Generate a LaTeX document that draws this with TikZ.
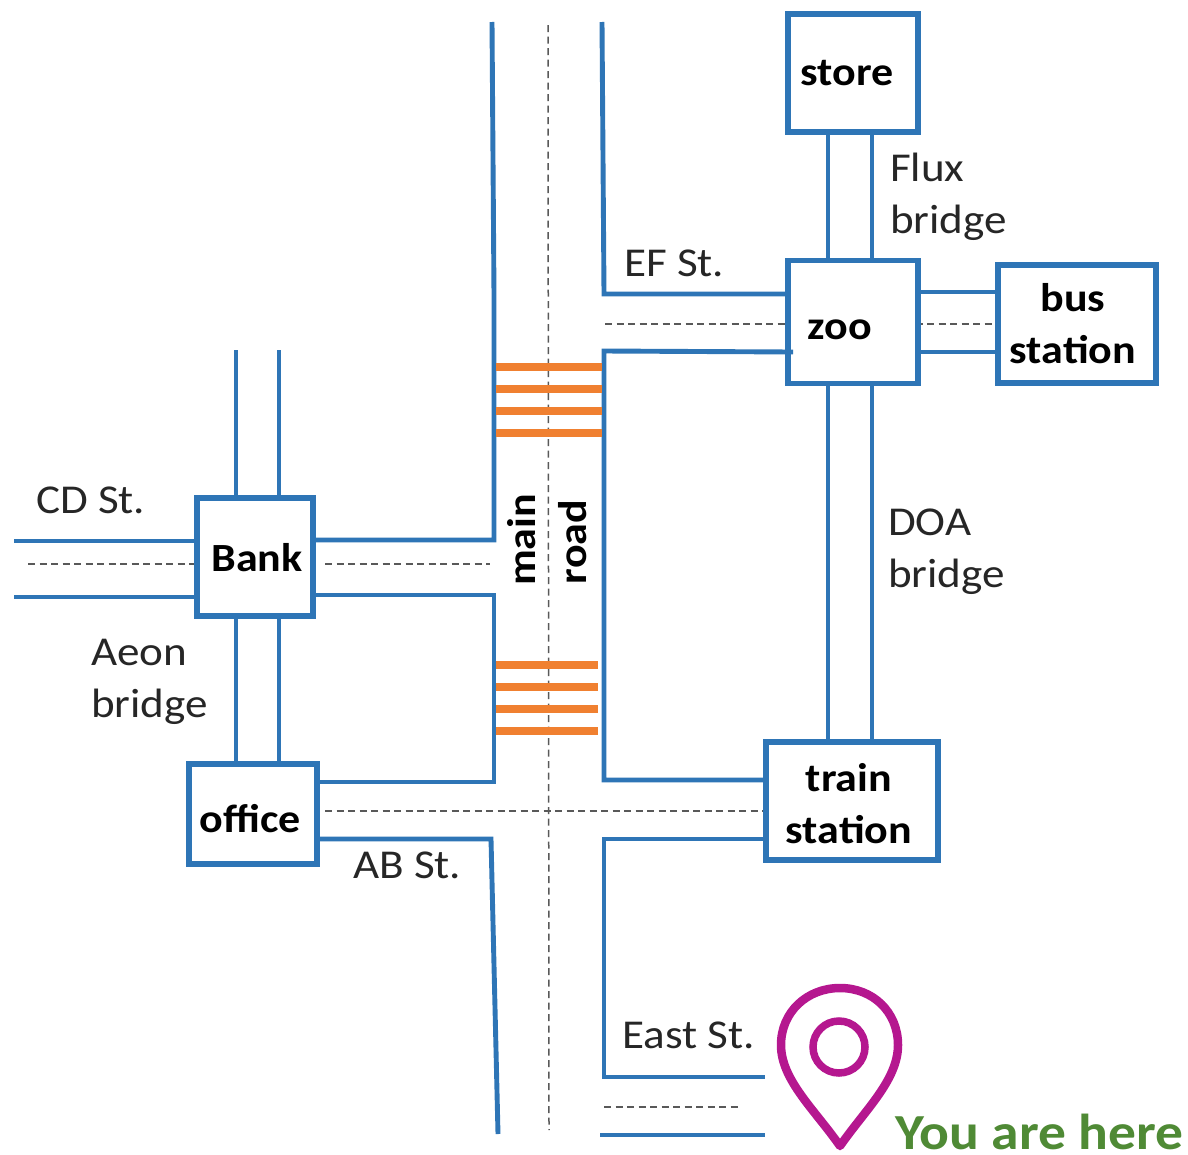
\documentclass[tikz,border=0pt]{standalone}
\usepackage{fontspec}
\setmainfont{Carlito}[FakeStretch=1.1]
\definecolor{roadblue}{HTML}{2E75B6}
\definecolor{cross}{HTML}{F08030}
\definecolor{pin}{HTML}{B5178F}
\definecolor{herecol}{HTML}{4F8A35}
\definecolor{labelc}{HTML}{262626}
\tikzset{
 x=1pt,y=-1pt,
 road/.style={draw=roadblue,line width=4.9pt,line join=miter},
 place/.style={draw=roadblue,line width=5.3pt,fill=white,inner sep=0pt,align=center,font=\fontsize{40}{52}\selectfont\bfseries,text=black},
 boldt/.style={inner sep=0pt,font=\fontsize{40}{52}\selectfont\bfseries,text=black},
 lane/.style={draw=gray!70!black,line width=1.5pt,dash pattern=on 7pt off 4.5pt},
 stripe/.style={draw=cross,line width=7.5pt},
 lbl/.style={inner sep=0pt,align=left,anchor=west,font=\fontsize{41}{52}\selectfont,text=labelc},
}
\begin{document}
\begin{tikzpicture}
\useasboundingbox (0,0) rectangle (1188,1154);
% lane markings
\draw[lane] (548,25) -- (549,1130);
\draw[lane] (605,324) -- (1000,324);
\draw[lane] (28,564) -- (195,564);
\draw[lane] (325,564) -- (490,564);
\draw[lane] (325,811) -- (765,811);
\draw[lane] (604,1107) -- (742,1107);
% coordinates for free road ends
\coordinate (r1) at (492,22);
\coordinate (r1m) at (494,296);
\coordinate (r1b) at (494,540);
\coordinate (r2) at (602,22);
\coordinate (r2b) at (604,294);
\coordinate (r3) at (494,595);
\coordinate (r3b) at (494,782);
\coordinate (r4) at (604,351);
\coordinate (r4b) at (604,780);
\coordinate (r4e) at (793,352);
\coordinate (r5) at (491,839);
\coordinate (r5b) at (498,1134);
\coordinate (r6) at (604,839);
\coordinate (r6b) at (604,1077);
\coordinate (r7) at (765,1077);
\coordinate (r8a) at (600,1135);
\coordinate (r8b) at (765,1135);
\coordinate (b1) at (236,350);
\coordinate (b2) at (279,350);
\coordinate (w1) at (14,541);
\coordinate (w2) at (14,597);
% places
\node[place,minimum width=130pt,minimum height=118pt] (store) at (853,73) {};
\node[boldt] (storet) at (847,73) {store};
\node[place,minimum width=130pt,minimum height=123pt] (zoo) at (853,322) {};
\node[boldt] (zoot) at (840,330) {zoo};
\node[place,minimum width=158pt,minimum height=118pt] (bus) at (1077,324) {};
\node[boldt,align=center] (bust) at (1073,324) {bus\\station};
\node[place,minimum width=116pt,minimum height=118pt] (bank) at (255,557) {};
\node[boldt] (bankt) at (257,558) {Bank};
\node[place,minimum width=128pt,minimum height=100pt] (office) at (253,814) {};
\node[boldt] (officet) at (250,819) {office};
\node[place,minimum width=172pt,minimum height=118pt] (train) at (852,801) {};
\node[boldt,align=center] (traint) at (849,804) {train\\station};
% roads
\draw[road] (r1) -- (r1m) -- (r1b) -- (bank.east |- r1b);
\draw[road] (r2) -- (r2b) -- (zoo.west |- r2b);
\draw[road] (bank.east |- r3) -- (r3) -- (r3b) -- (office.east |- r3b);
\draw[road] (r4e) -- (r4) -- (r4b) -- (train.west |- r4b);
\draw[road] (office.east |- r5) -- (r5) -- (r5b);
\draw[road] (train.west |- r6) -- (r6) -- (r6b) -- (r7);
\draw[road] (r8a) -- (r8b);
\draw[road] (w1) -- (bank.west |- w1);
\draw[road] (w2) -- (bank.west |- w2);
\draw[road] (b1) -- (bank.north -| b1);
\draw[road] (b2) -- (bank.north -| b2);
\draw[road] (bank.south -| b1) -- (office.north -| b1);
\draw[road] (bank.south -| b2) -- (office.north -| b2);
\coordinate (z1) at (828,0);
\coordinate (z2) at (872,0);
\draw[road] (store.south -| z1) -- (zoo.north -| z1);
\draw[road] (store.south -| z2) -- (zoo.north -| z2);
\draw[road] (zoo.south -| z1) -- (train.north -| z1);
\draw[road] (zoo.south -| z2) -- (train.north -| z2);
\coordinate (z3) at (0,292);
\coordinate (z4) at (0,352);
\draw[road] (zoo.east |- z3) -- (bus.west |- z3);
\draw[road] (zoo.east |- z4) -- (bus.west |- z4);
% crossings
\foreach \y in {367,389,411,433} \draw[stripe] (496,\y) -- (602,\y);
\foreach \y in {665,687,709,731} \draw[stripe] (496,\y) -- (598,\y);
% labels
\node[lbl] (t1) at (36,500) {CD St.};
\node[lbl] (t2) at (91,682) {Aeon\\bridge};
\node[lbl] (t3) at (890,197) {Flux\\bridge};
\node[lbl] (t4) at (624,263) {EF St.};
\node[lbl] (t5) at (888,552) {DOA\\bridge};
\node[lbl] (t6) at (353,865) {AB St.};
\node[lbl] (t7) at (622,1035) {East St.};
\node[boldt,rotate=90] (t8) at (522,540) {main};
\node[boldt,rotate=90] (t9) at (573,542) {road};
% pin
\draw[draw=pin,line width=8.5pt,line join=round,fill=white]
 (840,1146) .. controls (815,1110) and (781,1080) .. (781,1045)
 .. controls (781,1012) and (807,988) .. (840,988)
 .. controls (873,988) and (898,1012) .. (898,1045)
 .. controls (898,1080) and (865,1110) .. (840,1146) -- cycle;
\node[draw=pin,line width=7.5pt,circle,minimum size=52pt,inner sep=0pt] (pinc) at (839,1047) {};
\node[inner sep=0pt,anchor=west,text=herecol,font=\fontsize{50.5}{52}\selectfont\bfseries] (here) at (895,1132) {You are here};
\end{tikzpicture}
\end{document}
